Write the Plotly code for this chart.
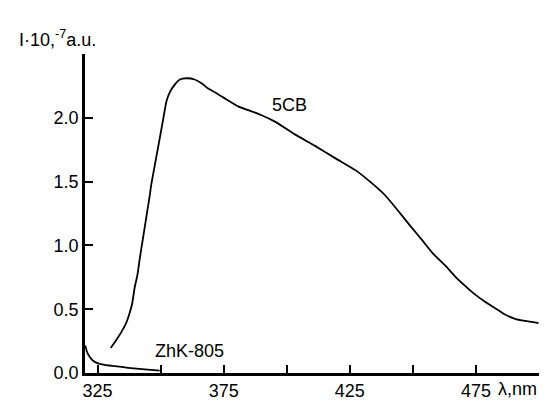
import plotly.graph_objects as go

# 5CB fluorescence spectrum (wavelength, nm ; intensity, 1e-7 a.u.)
wl_5cb = [330.2, 332.4, 334.4, 336.4, 337.7, 338.7, 339.7, 340.8, 341.7, 342.7,
          343.7, 344.7, 345.7, 346.3, 349.0, 351.0, 352.3, 353.6, 355.6, 357.6,
          360.2, 363.5, 366.2, 368.8, 371.5, 374.8, 378.1, 380.7, 384.7, 390.0,
          395.3, 403.2, 411.2, 419.5, 427.2, 433.6, 438.9, 444.2, 448.8, 453.5,
          458.1, 462.7, 466.7, 470.7, 474.6, 478.6, 482.6, 486.5, 490.5, 494.5,
          499.8]
i_5cb = [0.196, 0.258, 0.32, 0.395, 0.47, 0.545, 0.67, 0.77, 0.895, 1.02,
         1.145, 1.27, 1.395, 1.48, 1.77, 1.99, 2.13, 2.20, 2.26, 2.30,
         2.31, 2.30, 2.27, 2.23, 2.20, 2.16, 2.12, 2.09, 2.06, 2.02,
         1.97, 1.87, 1.78, 1.68, 1.59, 1.49, 1.395, 1.27, 1.157, 1.045,
         0.933, 0.845, 0.758, 0.683, 0.616, 0.558, 0.508, 0.458, 0.425, 0.408,
         0.391]

# ZhK-805 spectrum
wl_zhk = [320.1, 320.9, 321.9, 323.2, 325.2, 327.8, 331.8, 337.1, 343.7, 349.6]
i_zhk = [0.216, 0.159, 0.126, 0.096, 0.076, 0.064, 0.054, 0.041, 0.028, 0.019]

x_label_ticks = [325, 375, 425, 475]
x_plain_ticks = [350, 400, 450, 500]
y_label_ticks = [0.0, 0.5, 1.0, 1.5, 2.0]
y_label_text = ["0.0", "0.5", "1.0", "1.5", "2.0"]
y_plain_ticks = [2.5]

FONT = "Liberation Sans, Arial, sans-serif"

fig = go.Figure()
fig.add_trace(go.Scatter(x=wl_5cb, y=i_5cb, mode="lines",
                         line=dict(color="black", width=1.8, shape="spline", smoothing=0.5),
                         showlegend=False))
fig.add_trace(go.Scatter(x=wl_zhk, y=i_zhk, mode="lines",
                         line=dict(color="black", width=1.8, shape="spline", smoothing=0.5),
                         showlegend=False))

fig.add_annotation(x=401, y=2.10, text="5CB", showarrow=False,
                   font=dict(size=18, color="black", family=FONT))
fig.add_annotation(x=361.5, y=0.17, text="ZhK-805", showarrow=False,
                   font=dict(size=18, color="black", family=FONT))
fig.add_annotation(xref="paper", yref="paper", x=-0.150, y=1.05,
                   text="I·10,<sup>-7</sup>a.u.", showarrow=False,
                   xanchor="left", yanchor="middle",
                   font=dict(size=18, color="black", family=FONT))
fig.add_annotation(xref="paper", yref="paper", x=0.905, y=-0.049,
                   text="λ,nm", showarrow=False,
                   xanchor="left", yanchor="middle",
                   font=dict(size=18, color="black", family=FONT))

fig.update_xaxes(range=[320, 500], tickvals=x_label_ticks,
                 ticktext=[str(v) for v in x_label_ticks],
                 ticks="inside", ticklen=8, tickwidth=2, tickcolor="black",
                 minor=dict(tickvals=x_plain_ticks, ticks="inside", ticklen=8,
                            tickwidth=2, tickcolor="black", showgrid=False),
                 showline=True, linecolor="black", linewidth=2.5,
                 showgrid=False, zeroline=False,
                 tickfont=dict(size=18, color="black", family=FONT))
fig.update_yaxes(range=[0, 2.5], tickvals=y_label_ticks, ticktext=y_label_text,
                 ticks="inside", ticklen=8, tickwidth=2, tickcolor="black",
                 minor=dict(tickvals=y_plain_ticks, ticks="inside", ticklen=8,
                            tickwidth=2, tickcolor="black", showgrid=False),
                 showline=True, linecolor="black", linewidth=2.5,
                 showgrid=False, zeroline=False,
                 tickfont=dict(size=18, color="black", family=FONT))

fig.update_layout(width=547, height=405,
                  margin=dict(l=77, r=16, t=46, b=25),
                  plot_bgcolor="white", paper_bgcolor="white",
                  font=dict(family=FONT, color="black"))

fig.write_html("out.html")
